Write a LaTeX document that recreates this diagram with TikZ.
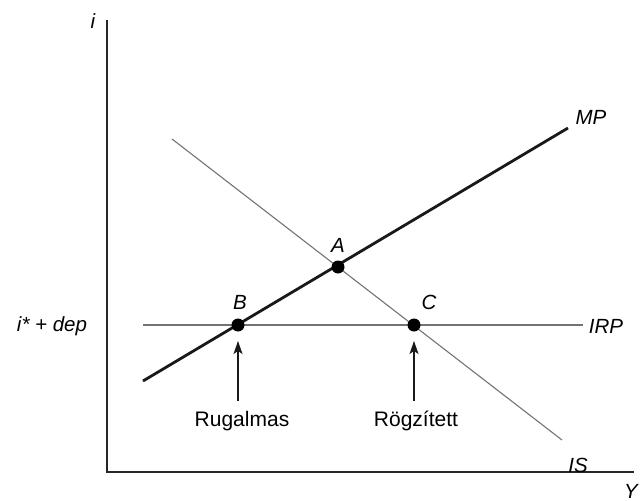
\documentclass[tikz,border=0pt]{standalone}
\usepackage{fontspec}
\setmainfont{Liberation Sans}
\usetikzlibrary{arrows.meta}
\begin{document}
\begin{tikzpicture}[x=1pt,y=-1pt,
  lbl/.style={font=\fontsize{20.5}{22}\selectfont\itshape,inner sep=0pt},
  txt/.style={font=\fontsize{21}{23}\selectfont,inner sep=0pt},
  dot/.style={circle,fill=black,inner sep=0pt,minimum size=13pt},
  axis/.style={line width=2.6pt,draw=black!85},
  mpline/.style={line width=2.8pt,draw=black!90},
  isline/.style={line width=1.1pt,draw=black!55},
  irpline/.style={line width=2.4pt,draw=black!55},
  upar/.style={line width=1.2pt,draw=black!90,-{Stealth[length=13pt,width=9pt,inset=3pt]}}]
\useasboundingbox (0,0) rectangle (641,501);
% axes
\coordinate (top) at (107,20);
\coordinate (orig) at (107,472);
\coordinate (right) at (634,472);
\draw[axis] (top) -- (orig) -- (right);
\node[lbl] (il) at (93,21) {i};
\node[lbl] (yl) at (631,491) {Y};
% lines
\coordinate (mp1) at (143,381);
\coordinate (mp2) at (568,128);
\coordinate (is1) at (172,139);
\coordinate (is2) at (562,440);
\coordinate (irp1) at (143,325);
\coordinate (irp2) at (583,325);
\draw[irpline] (irp1) -- (irp2);
\draw[isline] (is1) -- (is2);
\draw[mpline] (mp1) -- (mp2);
% labels
\node[lbl] (mpl) at (591,117) {MP};
\node[lbl] (isl) at (578,465) {IS};
\node[lbl] (irpl) at (606,326) {IRP};
\node[lbl] (dep) at (52,326) {i* + dep};
% points
\node[dot] (A) at (338,267) {};
\node[dot] (B) at (238,325) {};
\node[dot] (C) at (414,325) {};
\node[lbl] (Al) at (338,245) {A};
\node[lbl] (Bl) at (240,302) {B};
\node[lbl] (Cl) at (429,302) {C};
% arrows
\node[txt] (rug) at (242,421) {Rugalmas};
\node[txt] (rog) at (416,421) {Rögzített};
\coordinate (ab) at (238,401);
\coordinate (cb) at (414,401);
\coordinate (at) at (238,341);
\coordinate (ct) at (414,341);
\draw[upar] (ab) -- (at);
\draw[upar] (cb) -- (ct);
\end{tikzpicture}
\end{document}
